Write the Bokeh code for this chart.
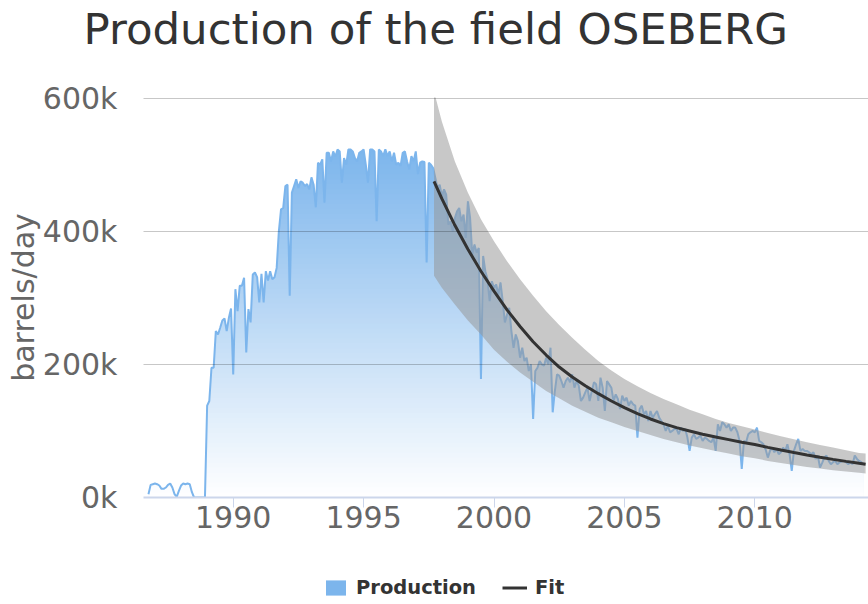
import numpy as np
from bokeh.plotting import figure
from bokeh.layouts import column
from bokeh.models import (FixedTicker, PrintfTickFormatter, Range1d, Legend,
                          LegendItem)
from bokeh.embed import file_html
from bokeh.resources import INLINE

# ---------------- data (thousand barrels/day, monthly) ----------------
prod_1986 = [5, 19, 20]  # Oct..Dec
prod_1987 = [21, 20, 18, 13, 13, 15, 19, 21, 15, 5, 1, 10]
prod_1988 = [18, 21, 20, 21, 20, 8, 0, 0, 0, 0, 0, 0]
prod_1989 = [138, 145, 195, 195, 250, 245, 255, 266, 269, 250, 270, 284]
prod_1990 = [185, 313, 280, 318, 318, 330, 218, 283, 263, 335, 338, 331]
prod_1991 = [293, 336, 293, 340, 326, 340, 328, 331, 345, 400, 433, 435]
prod_1992 = [468, 470, 303, 458, 468, 478, 465, 475, 473, 468, 471, 463]
prod_1993 = [481, 470, 436, 503, 500, 508, 443, 518, 518, 505, 520, 512]
prod_1994 = [523, 520, 473, 510, 500, 523, 523, 520, 510, 505, 518, 520]
prod_1995 = [523, 500, 473, 523, 523, 520, 415, 523, 520, 513, 523, 513]
prod_1996 = [520, 505, 518, 500, 503, 498, 518, 520, 505, 493, 513, 505]
prod_1997 = [520, 486, 503, 505, 504, 353, 503, 500, 495, 480, 465, 470]
prod_1998 = [453, 463, 455, 410, 415, 400, 420, 430, 435, 415, 425, 390]
prod_1999 = [445, 420, 365, 380, 368, 375, 178, 363, 340, 328, 295, 325]
prod_2000 = [315, 320, 305, 323, 295, 263, 275, 285, 250, 225, 245, 235]
prod_2001 = [210, 225, 205, 210, 190, 200, 118, 190, 195, 205, 200, 198]
prod_2002 = [210, 200, 225, 128, 160, 185, 183, 175, 165, 175, 180, 173]
prod_2003 = [185, 165, 175, 168, 145, 150, 158, 165, 145, 160, 173, 170]
prod_2004 = [145, 180, 165, 130, 175, 170, 165, 145, 155, 148, 133, 153]
prod_2005 = [145, 150, 138, 145, 140, 138, 90, 133, 138, 125, 130, 115]
prod_2006 = [130, 120, 125, 130, 120, 115, 110, 100, 108, 98, 100, 103]
prod_2007 = [103, 95, 105, 100, 103, 90, 70, 90, 95, 88, 90, 93]
prod_2008 = [85, 90, 88, 85, 83, 90, 70, 110, 100, 113, 110, 105]
prod_2009 = [110, 100, 105, 105, 98, 85, 43, 85, 83, 95, 98, 100]
prod_2010 = [98, 105, 85, 83, 80, 72, 60, 70, 75, 68, 73, 65]
prod_2011 = [68, 75, 70, 80, 65, 40, 70, 80, 88, 70, 73, 70]
prod_2012 = [70, 68, 65, 68, 58, 63, 45, 52, 60, 63, 55, 50]
prod_2013 = [53, 55, 50, 53, 54, 55, 53, 50, 53, 50, 63, 58]
prod_2014 = [55, 53, 50]  # Jan..Mar

production_years = [
    (1986, 10, prod_1986), (1987, 1, prod_1987), (1988, 1, prod_1988),
    (1989, 1, prod_1989), (1990, 1, prod_1990), (1991, 1, prod_1991),
    (1992, 1, prod_1992), (1993, 1, prod_1993), (1994, 1, prod_1994),
    (1995, 1, prod_1995), (1996, 1, prod_1996), (1997, 1, prod_1997),
    (1998, 1, prod_1998), (1999, 1, prod_1999), (2000, 1, prod_2000),
    (2001, 1, prod_2001), (2002, 1, prod_2002), (2003, 1, prod_2003),
    (2004, 1, prod_2004), (2005, 1, prod_2005), (2006, 1, prod_2006),
    (2007, 1, prod_2007), (2008, 1, prod_2008), (2009, 1, prod_2009),
    (2010, 1, prod_2010), (2011, 1, prod_2011), (2012, 1, prod_2012),
    (2013, 1, prod_2013), (2014, 1, prod_2014),
]

# Fit (decline curve) and its uncertainty band, thousand barrels/day
fit_years = [1997.7, 1998.0, 1998.5, 1999.0, 1999.5, 2000.0, 2000.5, 2001.0,
             2001.5, 2002.0, 2002.5, 2003.0, 2003.5, 2004.0, 2004.5, 2005.0,
             2005.5, 2006.0, 2006.5, 2007.0, 2007.5, 2008.0, 2008.5, 2009.0,
             2009.5, 2010.0, 2010.5, 2011.0, 2011.5, 2012.0, 2012.5, 2013.0,
             2013.5, 2014.0, 2014.25]
fit_values = [475, 449, 409, 373, 340, 310, 282, 257, 234, 214, 196, 181,
              168, 156, 145, 135, 126, 118, 111, 105, 100, 95, 91, 87, 83,
              79.5, 75.3, 71.3, 67.5, 63.9, 60.5, 57.3, 54.3, 51.4, 50]
fit_upper = [610, 565, 505, 458, 418, 385, 355, 328, 303, 280, 259, 240,
             222, 205, 191, 178, 167, 157, 148, 140, 132, 125, 118, 112,
             107, 102, 97, 92, 87.5, 83, 79, 75, 71, 67, 66]
fit_lower = [333, 315, 290, 266, 245, 222, 204, 188, 174, 160, 149, 138,
             129, 120, 113, 106, 100, 94, 88, 83, 78, 74, 70, 66, 62, 59,
             55, 52, 49, 46, 43.5, 41, 39, 37, 36]

x_ticks = [1990, 1995, 2000, 2005, 2010]
y_ticks = [0, 200, 400, 600]

# ---------------- build series ----------------
px, py = [], []
for yr, first_month, vals in production_years:
    for i, v in enumerate(vals):
        px.append(yr + (first_month - 1 + i) / 12.0)
        py.append(v)
px = np.array(px)
py = np.array(py, dtype=float)

FONT = "DejaVu Sans"
BLUE = (124, 181, 236)


def bare_strip(height):
    f = figure(width=868, height=height, output_backend="svg",
               toolbar_location=None, x_axis_type=None, y_axis_type=None,
               x_range=Range1d(0, 1), y_range=Range1d(0, 1),
               min_border_left=143, min_border_right=0, min_border_top=0,
               min_border_bottom=0)
    f.outline_line_color = None
    f.xgrid.grid_line_color = None
    f.ygrid.grid_line_color = None
    return f


# ---------------- title strip ----------------
head = bare_strip(60)
head.title.text = "Production of the field OSEBERG"
head.title.text_font = FONT
head.title.text_font_size = "43.5px"
head.title.text_font_style = "normal"
head.title.text_color = "#333333"
head.title.align = "left"
head.title.offset = -60
head.title.standoff = 2

# ---------------- main chart ----------------
p = figure(width=868, height=510, output_backend="svg", toolbar_location=None,
           x_range=Range1d(1986.56, 2014.36), y_range=Range1d(0, 601),
           min_border_left=143, min_border_right=0, min_border_top=37,
           min_border_bottom=73)
p.outline_line_color = None
p.background_fill_color = "white"
p.border_fill_color = "white"

# gradient fill of the production area: opaque layers painted top-down
vmax = py.max()
n_layers = 70
levels = np.linspace(vmax, 0, n_layers + 1)
for i in range(n_layers):
    mid = 0.5 * (levels[i] + levels[i + 1])
    a = mid / vmax
    col = tuple(int(round(255 - (255 - c) * a)) for c in BLUE)
    p.varea(x=px, y1=np.zeros_like(py), y2=np.minimum(py, levels[i]),
            fill_color=col, fill_alpha=1.0)

p.line(px, py, line_color="#7cb5ec", line_width=2)

# fit band and fit line
p.varea(x=fit_years, y1=fit_lower, y2=fit_upper,
        fill_color=(149, 149, 149), fill_alpha=0.52)
p.line(fit_years, fit_values, line_color="#333333", line_width=3)

# axes
p.xaxis.ticker = FixedTicker(ticks=x_ticks)
p.xaxis.axis_line_color = "#ccd6eb"
p.xaxis.axis_line_width = 2
p.xaxis.major_tick_line_color = "#ccd6eb"
p.xaxis.major_tick_out = 10
p.xaxis.major_tick_in = 0
p.xaxis.minor_tick_line_color = None
p.xaxis.major_label_text_font = FONT
p.xaxis.major_label_text_font_size = "30px"
p.xaxis.major_label_text_color = "#666666"
p.xaxis.major_label_standoff = -2

p.yaxis.ticker = FixedTicker(ticks=y_ticks)
p.yaxis.formatter = PrintfTickFormatter(format="%dk")
p.yaxis.axis_line_color = None
p.yaxis.major_tick_line_color = None
p.yaxis.minor_tick_line_color = None
p.yaxis.major_label_text_font = FONT
p.yaxis.major_label_text_font_size = "30px"
p.yaxis.major_label_text_color = "#666666"
p.yaxis.major_label_standoff = 20
p.yaxis.axis_label = "barrels/day"
p.yaxis.axis_label_text_font = FONT
p.yaxis.axis_label_text_font_size = "30px"
p.yaxis.axis_label_text_font_style = "normal"
p.yaxis.axis_label_text_color = "#666666"
p.yaxis.axis_label_standoff = -1

p.xgrid.grid_line_color = None
p.ygrid.grid_line_color = "black"
p.ygrid.grid_line_alpha = 0.22
p.ygrid.grid_line_width = 1
p.ygrid.level = "overlay"

# ---------------- legend strip ----------------
leg = bare_strip(34)
swatch = leg.quad(left=[np.nan], right=[np.nan], top=[np.nan],
                  bottom=[np.nan], fill_color="#7cb5ec", line_color=None)
fit_swatch = leg.line(x=[np.nan], y=[np.nan], line_color="#333333",
                      line_width=3)
legend = Legend(items=[LegendItem(label="Production", renderers=[swatch]),
                       LegendItem(label="Fit", renderers=[fit_swatch])],
                orientation="horizontal", location=(180, 5),
                glyph_width=25, glyph_height=19, label_standoff=8, spacing=26,
                padding=0, margin=0, border_line_color=None,
                background_fill_alpha=0, label_text_font=FONT,
                label_text_font_size="19.5px", label_text_font_style="bold",
                label_text_color="#333333", label_height=19)
leg.add_layout(legend)

layout = column(head, p, leg, spacing=0)
open("out.html", "w").write(file_html(layout, INLINE))
